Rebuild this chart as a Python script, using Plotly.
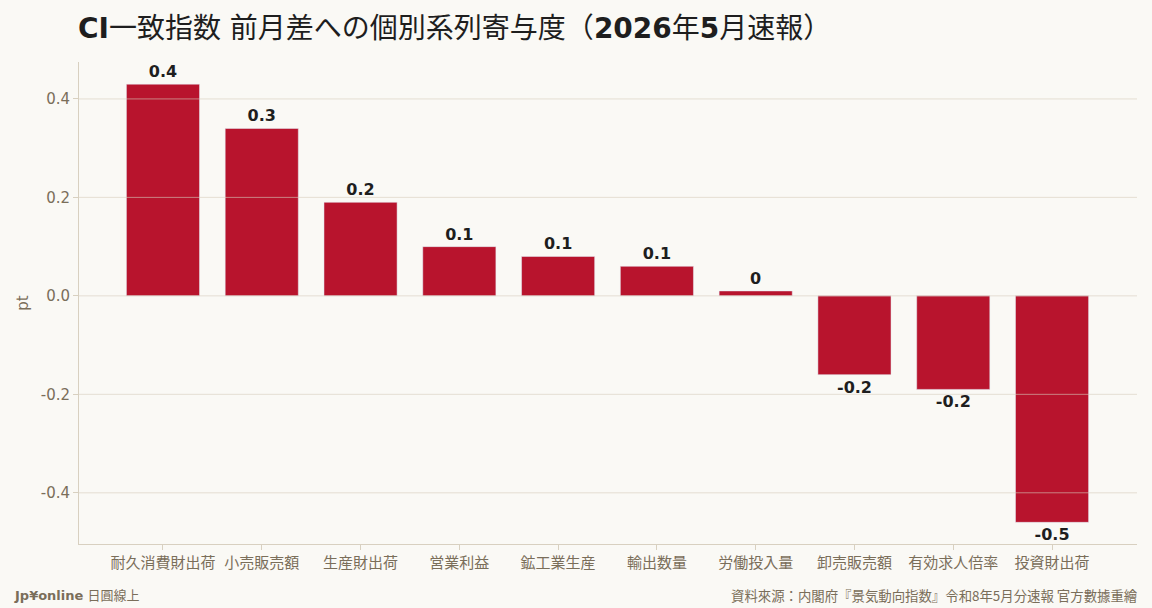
import plotly.graph_objects as go

# CI coincident index, contribution by series (pt)
series_names = ["耐久消費財出荷", "小売販売額", "生産財出荷", "営業利益", "鉱工業生産",
                "輸出数量", "労働投入量", "卸売販売額", "有効求人倍率", "投資財出荷"]
contrib_pt = [0.43, 0.34, 0.19, 0.10, 0.08, 0.06, 0.01, -0.16, -0.19, -0.46]
y_ticks = [-0.4, -0.2, 0.0, 0.2, 0.4]

bar_color = "#B8142D"
bg_color = "#FAF9F5"
muted = "#7A6E5A"
label_text = [f"{round(v, 1):g}" for v in contrib_pt]
tick_text = [f"{t:.1f}" for t in y_ticks]  # plain hyphen, not unicode minus

fig = go.Figure(
    go.Bar(
        x=series_names,
        y=contrib_pt,
        width=0.74,
        marker_color=bar_color,
        text=label_text,
        textposition="outside",
        constraintext="none",
        cliponaxis=False,
        textfont=dict(family="DejaVu Sans", size=16, color="#1E1E1E", weight="bold"),
        hoverinfo="x+y",
    )
)

fig.update_layout(
    width=1152,
    height=608,
    paper_bgcolor=bg_color,
    plot_bgcolor=bg_color,
    margin=dict(l=79, r=15, t=62, b=64),
    showlegend=False,
    font=dict(family="DejaVu Sans, Noto Sans CJK JP", color=muted),
    title=dict(
        text="<b>CI</b>一致指数 前月差への個別系列寄与度（<b>2026</b>年<b>5</b>月速報）",
        x=78 / 1152,
        xanchor="left",
        y=1 - 28 / 608,
        yanchor="middle",
        font=dict(family="DejaVu Sans, Noto Sans CJK JP", size=28, color="#1E1E1E"),
    ),
)

fig.update_xaxes(
    range=[-0.85, 9.86],
    showline=True,
    linecolor="#D8D0C0",
    ticks="outside",
    ticklen=5,
    tickcolor="#D8D0C0",
    tickfont=dict(size=15, color=muted, family="Noto Sans CJK JP"),
    showgrid=False,
)

fig.update_yaxes(
    range=[-0.504, 0.475],
    tickvals=y_ticks,
    ticktext=tick_text,
    showline=True,
    linecolor="#D8D0C0",
    ticks="outside",
    ticklen=5,
    tickcolor="#D8D0C0",
    tickfont=dict(size=15, color=muted),
    showgrid=False,
    zeroline=False,
    title=dict(text="pt", font=dict(size=15, color=muted), standoff=8),
)

# gridlines sit on top of the bars in the original
for t in y_ticks:
    fig.add_hline(y=t, line=dict(color="rgba(215,205,188,0.6)", width=1), layer="above")

fig.add_annotation(
    text="<b>Jp¥online</b> 日圓線上",
    xref="paper", yref="paper",
    x=-67 / 1058, y=-51 / 482,
    xanchor="left", yanchor="middle",
    showarrow=False,
    font=dict(size=13, color=muted, family="DejaVu Sans, Noto Sans CJK JP"),
)
fig.add_annotation(
    text="資料來源：内閣府『景気動向指数』令和8年5月分速報 官方數據重繪",
    xref="paper", yref="paper",
    x=1 + 3 / 1058, y=-51 / 482,
    xanchor="right", yanchor="middle",
    showarrow=False,
    font=dict(size=13.4, color=muted, family="Noto Sans CJK JP"),
)

fig.write_html("out.html", config={"displayModeBar": False},
               post_script="document.body.style.margin='0';")
